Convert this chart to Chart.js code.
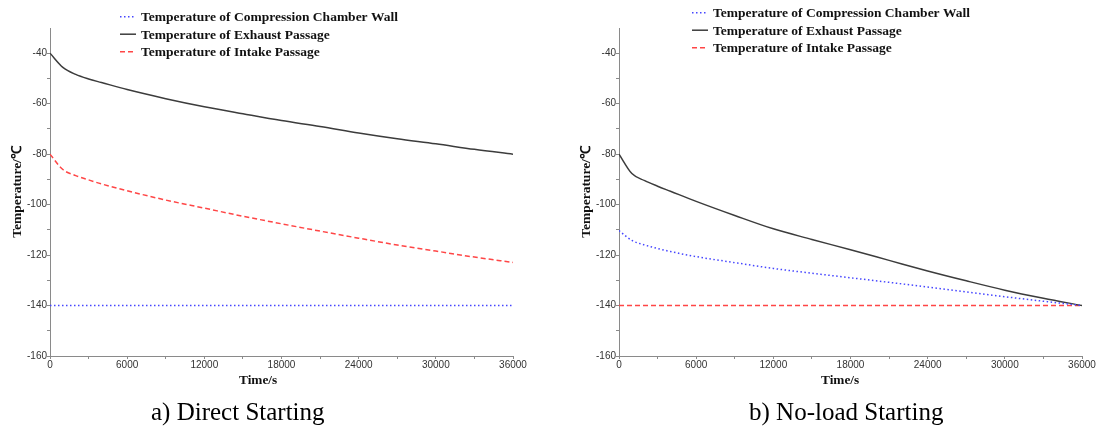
<!DOCTYPE html>
<html>
<head>
<meta charset="utf-8">
<script src="https://cdn.jsdelivr.net/npm/chart.js@4"></script>
<style>
  body { margin: 0; background: #fff; }
  #wrap { position: relative; width: 1097px; height: 426px; overflow: hidden; }
  canvas { position: absolute; top: 0; }
  .xtitle { position: absolute; top: 372px; font: bold 13.3px "Liberation Serif", "Times New Roman", serif; color: #111; white-space: nowrap; }
  .caption { position: absolute; top: 399px; font: 25px/25px "Liberation Serif", "Times New Roman", serif; color: #000; white-space: nowrap; }
</style>
</head>
<body>
<div id="wrap">
  <canvas id="chartA" width="548" height="400" style="left:0px"></canvas>
  <canvas id="chartB" width="528" height="400" style="left:569px"></canvas>
  <div class="xtitle" style="left:239px">Time/s</div>
  <div class="xtitle" style="left:821px">Time/s</div>
  <div class="caption" style="left:151px">a) Direct Starting</div>
  <div class="caption" style="left:749px">b) No-load Starting</div>
</div>
<script>
// time points (s) shared by every curve
const timeS = [0, 1000, 2000, 3000, 4000, 6000, 9000, 12000, 15000, 18000,
               21000, 24000, 27000, 30000, 33000, 36000];

// a) Direct Starting
const directWall    = [-140, -140, -140, -140, -140, -140, -140, -140, -140, -140,
                       -140, -140, -140, -140, -140, -140];
const directExhaust = [-40, -45.6, -48.4, -50.2, -51.6, -54.4, -58.0, -61.2, -64.0, -66.7,
                       -69.0, -71.6, -73.9, -75.9, -78.1, -80];
const directIntake  = [-80, -86.1, -88.5, -90.2, -91.8, -94.5, -98.2, -101.4, -104.6, -107.6,
                       -110.5, -113.3, -116.0, -118.4, -120.8, -122.9];

// b) No-load Starting
const noloadWall    = [-110.3, -114.2, -116.0, -117.4, -118.6, -120.6, -123.0, -125.3, -127.2, -129.0,
                       -130.8, -132.7, -134.6, -136.5, -138.3, -140];
const noloadExhaust = [-80, -87.7, -90.5, -92.7, -94.7, -98.7, -104.3, -109.6, -113.8, -117.9,
                       -122.1, -126.3, -130.2, -133.9, -137.1, -140];
const noloadIntake  = [-140, -140, -140, -140, -140, -140, -140, -140, -140, -140,
                       -140, -140, -140, -140, -140, -140];

const seriesNames = ['Temperature of Compression Chamber Wall',
                     'Temperature of Exhaust Passage',
                     'Temperature of Intake Passage'];
const yTitle = 'Temperature/\u2103';

const serif = '"Liberation Serif", "Times New Roman", serif';

function pts(vals) {
    return timeS.map((t, i) => ({ x: t, y: vals[i] }));
}

// legend drawn as three stacked rows above the plot
const legendLines = {
    id: 'legendLines',
    afterDraw(chart, args, opts) {
        const ctx = chart.ctx;
        ctx.save();
        chart.data.datasets.forEach((ds, i) => {
            const y = opts.y + i * opts.gap;
            ctx.strokeStyle = ds.borderColor;
            ctx.lineWidth = 1.5;
            ctx.setLineDash(ds.borderDash || []);
            ctx.beginPath();
            ctx.moveTo(opts.x, y);
            ctx.lineTo(opts.x + 16, y);
            ctx.stroke();
            ctx.setLineDash([]);
            ctx.fillStyle = '#111';
            ctx.font = 'bold 13.5px ' + serif;
            ctx.textBaseline = 'middle';
            ctx.fillText(ds.label, opts.x + 21, y + 1);
        });
        ctx.restore();
    }
};

function makeChart(id, wall, exhaust, intake, padRight, legendX, legendY) {
    const ctx = document.getElementById(id).getContext('2d');
    return new Chart(ctx, {
        type: 'line',
        data: {
            datasets: [{
                label: seriesNames[0],
                data: pts(wall),
                borderColor: 'rgba(70, 70, 255, 1)',
                borderWidth: 1.5,
                borderDash: [1.5, 2.5]
            }, {
                label: seriesNames[1],
                data: pts(exhaust),
                borderColor: 'rgba(60, 60, 60, 1)',
                borderWidth: 1.5
            }, {
                label: seriesNames[2],
                data: pts(intake),
                borderColor: 'rgba(255, 70, 70, 1)',
                borderWidth: 1.5,
                borderDash: [5, 3]
            }]
        },
        options: {
            responsive: false,
            animation: false,
            cubicInterpolationMode: 'monotone',
            pointRadius: 0,
            layout: { padding: { top: 28, right: padRight, bottom: 0, left: 0 } },
            plugins: {
                legend: { display: false },
                tooltip: { enabled: false },
                legendLines: { x: legendX, y: legendY, gap: 17.5 }
            },
            scales: {
                x: {
                    type: 'linear',
                    min: 0,
                    max: 36000,
                    afterFit: (s) => { s.height = 44; },
                    border: { color: '#8a8a8a', width: 1 },
                    grid: { drawOnChartArea: false, color: '#8a8a8a', tickLength: 3 },
                    ticks: {
                        stepSize: 3000,
                        autoSkip: false,
                        maxRotation: 0,
                        padding: 0,
                        color: '#333',
                        font: { family: '"Liberation Sans", Arial, sans-serif', size: 10 },
                        callback: (v) => (v % 6000 === 0 ? v : '')
                    }
                },
                y: {
                    min: -160,
                    max: -30,
                    afterFit: (s) => { s.width = 50; },
                    // no tick mark at the very top of the axis
                    afterBuildTicks: (s) => { s.ticks = s.ticks.filter(t => t.value !== -30); },
                    border: { color: '#8a8a8a', width: 1 },
                    grid: { drawOnChartArea: false, color: '#8a8a8a', tickLength: 3 },
                    title: {
                        display: true,
                        text: yTitle,
                        color: '#111',
                        font: { family: serif, size: 13.5, weight: 'bold' },
                        padding: { top: 9, bottom: 0 }
                    },
                    ticks: {
                        stepSize: 10,
                        autoSkip: false,
                        padding: 0,
                        color: '#333',
                        font: { family: '"Liberation Sans", Arial, sans-serif', size: 10 },
                        callback: (v) => (v % 20 === 0 ? v : '')
                    }
                }
            }
        },
        plugins: [legendLines]
    });
}

makeChart('chartA', directWall, directExhaust, directIntake, 35, 120, 16.7);
makeChart('chartB', noloadWall, noloadExhaust, noloadIntake, 15, 123, 12.7);
</script>
</body>
</html>
